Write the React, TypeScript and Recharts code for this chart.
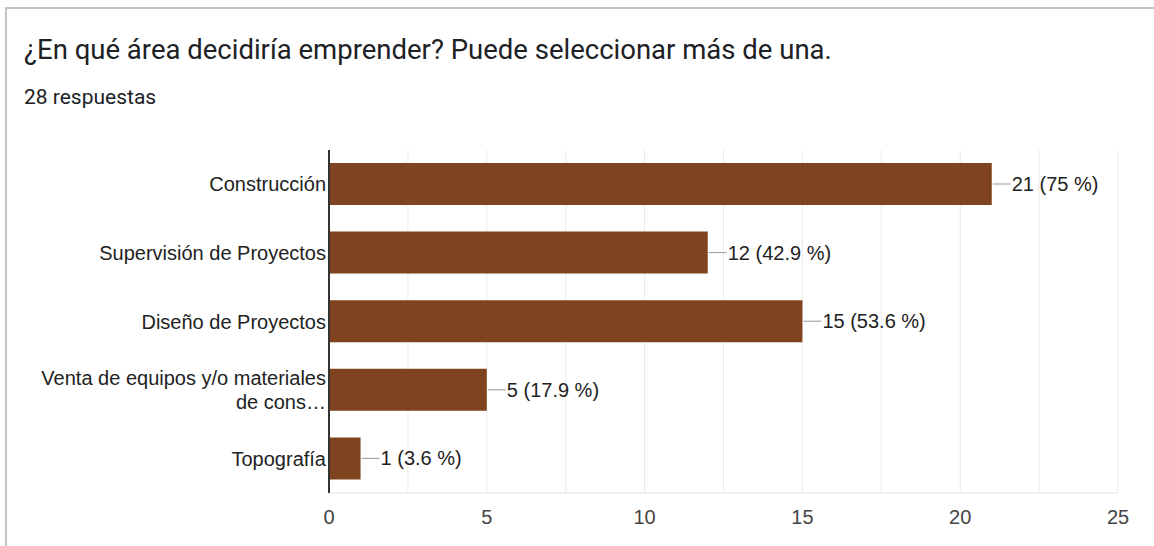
import React from 'react';
import { BarChart, Bar, XAxis, YAxis, CartesianGrid, LabelList } from 'recharts';

const categories = [
  'Construcción',
  'Supervisión de Proyectos',
  'Diseño de Proyectos',
  'Venta de equipos y/o materiales de cons…',
  'Topografía',
];
const counts = [21, 12, 15, 5, 1];
const percents = ['75 %', '42.9 %', '53.6 %', '17.9 %', '3.6 %'];
const xTicks = [0, 2.5, 5, 7.5, 10, 12.5, 15, 17.5, 20, 22.5, 25];

const data = categories.map((name, i) => ({
  name,
  value: counts[i],
  label: `${counts[i]} (${percents[i]})`,
}));

const FONT = '"Liberation Sans", Arial, sans-serif';

function wrap(text: string, max: number) {
  const words = text.split(' ');
  const lines: string[] = [];
  let cur = '';
  words.forEach(w => {
    const next = cur ? cur + ' ' + w : w;
    if (next.length > max && cur) {
      lines.push(cur);
      cur = w;
    } else {
      cur = next;
    }
  });
  if (cur) lines.push(cur);
  return lines;
}

const CategoryTick = (props: any) => {
  const { x, y, payload } = props;
  const lines = wrap(payload.value, 31);
  const lh = 24;
  const start = y - ((lines.length - 1) * lh) / 2;
  const tx = x + 5;
  return (
    <text x={tx} y={start} textAnchor="end" dominantBaseline="central"
      fontFamily={FONT} fontSize={20} fill="#222">
      {lines.map((l, i) => (
        <tspan key={i} x={tx} y={start + i * lh}>{l}</tspan>
      ))}
    </text>
  );
};

const ValueTick = (props: any) => {
  const { x, y, payload } = props;
  if (payload.value % 5 !== 0) return null;
  return (
    <text x={x} y={y + 16} textAnchor="middle" dominantBaseline="central"
      fontFamily={FONT} fontSize={20} fill="#444">
      {payload.value}
    </text>
  );
};

const ValueLabel = (props: any) => {
  const { x, y, width, height, value } = props;
  const ex = x + width;
  const cy = y + height / 2;
  return (
    <g>
      <line x1={ex + 1} y1={cy} x2={ex + 19} y2={cy} stroke="#999" strokeWidth={1} />
      <text x={ex + 20} y={cy} dominantBaseline="central" fontFamily={FONT} fontSize={20} fill="#222">
        {value}
      </text>
    </g>
  );
};

export default function App() {
  return (
    <div style={{ position: 'absolute', left: 0, top: 0, width: 1154, height: 546, background: '#fff', overflow: 'hidden' }}>
      <div style={{
        position: 'absolute', left: 5, top: 7, width: 1200, height: 600,
        borderLeft: '2px solid #c4c4c4', borderTop: '2px solid #c4c4c4',
      }} />
      <div style={{
        position: 'absolute', left: 24, top: 34, fontFamily: 'Roboto, sans-serif',
        fontSize: 27.5, color: '#202124', whiteSpace: 'nowrap', lineHeight: '32px',
      }}>
        ¿En qué área decidiría emprender? Puede seleccionar más de una.
      </div>
      <div style={{
        position: 'absolute', left: 24, top: 85, fontFamily: 'Roboto, sans-serif',
        fontSize: 21, color: '#202124', whiteSpace: 'nowrap', lineHeight: '24px',
      }}>
        28 respuestas
      </div>
      <div style={{ position: 'absolute', left: 0, top: 0 }}>
        <BarChart
          width={1154}
          height={546}
          data={data}
          layout="vertical"
          margin={{ top: 150, right: 36, bottom: 23, left: 9 }}
          barCategoryGap={0}
        >
          <CartesianGrid horizontal={false} stroke="#ebebeb" />
          <XAxis
            type="number"
            domain={[0, 25]}
            ticks={xTicks}
            interval={0}
            height={30}
            axisLine={{ stroke: '#e3e3e3' }}
            tickLine={false}
            tick={<ValueTick />}
          />
          <YAxis
            type="category"
            dataKey="name"
            width={320}
            axisLine={{ stroke: '#333', strokeWidth: 2 }}
            tickLine={false}
            tick={<CategoryTick />}
          />
          <Bar dataKey="value" fill="#7f4320" barSize={42} isAnimationActive={false}>
            <LabelList dataKey="label" content={<ValueLabel />} />
          </Bar>
        </BarChart>
      </div>
    </div>
  );
}
